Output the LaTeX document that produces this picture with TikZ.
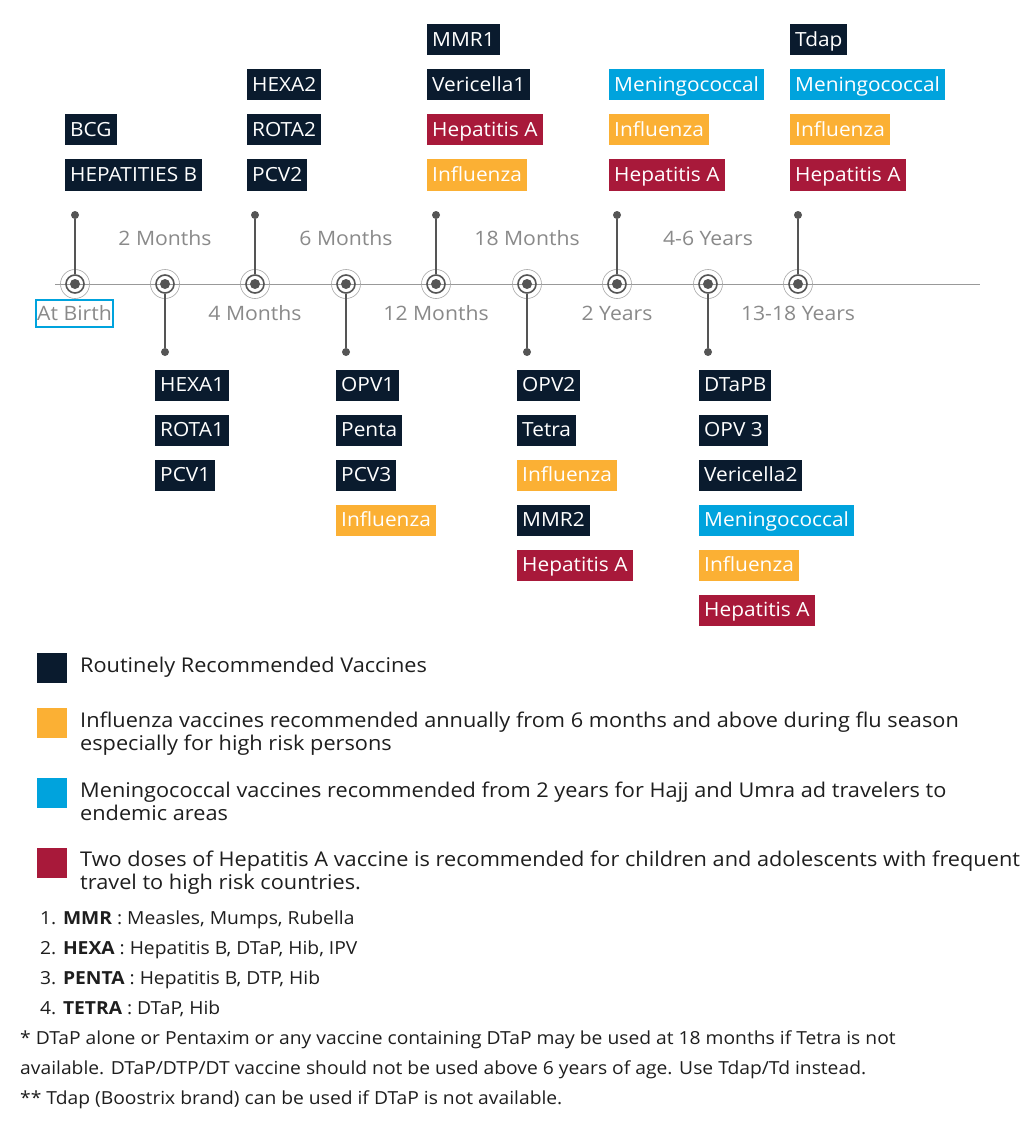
\documentclass[tikz,border=0pt]{standalone}
\usepackage{fontspec}
\setmainfont[FakeStretch=1.07]{Open Sans}
\definecolor{navy}{HTML}{0A1B2E}
\definecolor{flu}{HTML}{FBB034}
\definecolor{mening}{HTML}{00A3DD}
\definecolor{hepa}{HTML}{A8193A}
\definecolor{tlgray}{HTML}{555555}
\definecolor{lblgray}{HTML}{8A8A8A}
\definecolor{txt}{HTML}{1E1E1E}
\begin{document}
\begin{tikzpicture}[x=1pt,y=-1pt,
  vbox/.style={anchor=west, inner xsep=5pt, inner ysep=0pt, minimum height=31pt,
    text height=15.5pt, text depth=2pt, text=white, font=\fontsize{19.5}{19.5}\selectfont},
  rv/.style={vbox, fill=navy},
  fv/.style={vbox, fill=flu},
  mv/.style={vbox, fill=mening},
  hv/.style={vbox, fill=hepa},
  marker/.style={circle, draw=tlgray, line width=1.6pt, minimum size=18pt, inner sep=0pt,
    path picture={\fill[tlgray] (path picture bounding box.center) circle (5pt);}},
  ring/.style={circle, draw=black!35, line width=0.6pt, minimum size=29pt, inner sep=0pt},
  enddot/.style={circle, fill=tlgray, inner sep=0pt, minimum size=8pt},
  stem/.style={draw=tlgray, line width=1.1pt},
  agelbl/.style={text=lblgray, font=\fontsize{19.8}{19.8}\selectfont, inner sep=1pt},
  legsq/.style={anchor=north west, minimum size=30pt, inner sep=0pt},
  legtxt/.style={anchor=north west, align=left, text=txt, inner sep=0pt,
    font=\fontsize{20.3}{23}\selectfont},
  fn/.style={anchor=base west, text=txt, inner sep=0pt, font=\fontsize{18}{18}\selectfont}
]
\path[use as bounding box, fill=white] (0,0) rectangle (1023,1126);
% timeline
\coordinate (tlL) at (55,284);
\coordinate (tlR) at (980,284);
\draw[black!40, line width=0.8pt] (tlL) -- (tlR);
\foreach \n/\x in {m0/75, m2/165, m4/255, m6/346, m12/436, m18/527, y2/617, y46/708, y13/798}{
  \node[ring] (\n r) at (\x,284) {};
}
% stems up
\foreach \n/\x in {m0/75, m4/255, m12/436, y2/617, y13/798}{
  \node[enddot] (\n d) at (\x,215) {};
  \node[marker] (\n) at (\x,284) {};
  \draw[stem] (\n d) -- (\n.north);
}
% stems down
\foreach \n/\x in {m2/165, m6/346, m18/527, y46/708}{
  \node[enddot] (\n d) at (\x,352) {};
  \node[marker] (\n) at (\x,284) {};
  \draw[stem] (\n d) -- (\n.south);
}
% age labels
\node[agelbl, draw=mening, line width=1.8pt, inner xsep=1.5pt, inner ysep=0pt, minimum height=27pt] (l0) at (74.5,313.5) {At Birth};
\node[agelbl] (l2) at (165,238) {2 Months};
\node[agelbl] (l4) at (255,313) {4 Months};
\node[agelbl] (l6) at (346,238) {6 Months};
\node[agelbl] (l12) at (436,313) {12 Months};
\node[agelbl] (l18) at (527,238) {18 Months};
\node[agelbl] (ly2) at (617,313) {2 Years};
\node[agelbl] (ly46) at (708,238) {4-6 Years};
\node[agelbl] (ly13) at (798,313) {13-18 Years};
% At Birth
\node[rv] (b1) at (65,130) {BCG};
\node[rv] (b2) at (65,175) {HEPATITIES B};
% 2 months
\node[rv] (a1) at (155,385) {HEXA1};
\node[rv] (a2) at (155,430) {ROTA1};
\node[rv] (a3) at (155,475) {PCV1};
% 4 months
\node[rv] (c1) at (247,85) {HEXA2};
\node[rv] (c2) at (247,130) {ROTA2};
\node[rv] (c3) at (247,175) {PCV2};
% 6 months
\node[rv] (d1) at (336,385) {OPV1};
\node[rv] (d2) at (336,430) {Penta};
\node[rv] (d3) at (336,475) {PCV3};
\node[fv] (d4) at (336,520) {Influenza};
% 12 months
\node[rv] (e1) at (427,40) {MMR1};
\node[rv] (e2) at (427,85) {Vericella1};
\node[hv] (e3) at (427,130) {Hepatitis A};
\node[fv] (e4) at (427,175) {Influenza};
% 18 months
\node[rv] (f1) at (517,385) {OPV2};
\node[rv] (f2) at (517,430) {Tetra};
\node[fv] (f3) at (517,475) {Influenza};
\node[rv] (f4) at (517,520) {MMR2};
\node[hv] (f5) at (517,565) {Hepatitis A};
% 2 years
\node[mv] (g1) at (609,85) {Meningococcal};
\node[fv] (g2) at (609,130) {Influenza};
\node[hv] (g3) at (609,175) {Hepatitis A};
% 4-6 years
\node[rv] (h1) at (699,385) {DTaPB};
\node[rv] (h2) at (699,430) {OPV 3};
\node[rv] (h3) at (699,475) {Vericella2};
\node[mv] (h4) at (699,520) {Meningococcal};
\node[fv] (h5) at (699,565) {Influenza};
\node[hv] (h6) at (699,610) {Hepatitis A};
% 13-18 years
\node[rv] (i1) at (790,40) {Tdap};
\node[mv] (i2) at (790,85) {Meningococcal};
\node[fv] (i3) at (790,130) {Influenza};
\node[hv] (i4) at (790,175) {Hepatitis A};
% legend
\node[legsq, fill=navy] (s1) at (37,653) {};
\node[legtxt] (t1) at (80,656.5) {Routinely Recommended Vaccines};
\node[legsq, fill=flu] (s2) at (37,708) {};
\node[legtxt] (t2) at (80,711.5) {Influenza vaccines recommended annually from 6 months and above during flu season\\especially for high risk persons};
\node[legsq, fill=mening] (s3) at (37,778) {};
\node[legtxt] (t3) at (80,781.5) {Meningococcal vaccines recommended from 2 years for Hajj and Umra ad travelers to\\endemic areas};
\node[legsq, fill=hepa] (s4) at (37,848) {};
\node[legtxt] (t4) at (80,850.5) {Two doses of Hepatitis A vaccine is recommended for children and adolescents with frequent\\travel to high risk countries.};
% footnotes
\node[fn] (n1) at (40,924) {1. \textbf{MMR} : Measles, Mumps, Rubella};
\node[fn] (n2) at (40,954) {2. \textbf{HEXA} : Hepatitis B, DTaP, Hib, IPV};
\node[fn] (n3) at (40,984) {3. \textbf{PENTA} : Hepatitis B, DTP, Hib};
\node[fn] (n4) at (40,1014) {4. \textbf{TETRA} : DTaP, Hib};
\node[fn] (n5) at (20,1044) {* DTaP alone or Pentaxim or any vaccine containing DTaP may be used at 18 months if Tetra is not};
\node[fn] (n6) at (20,1074) {available. DTaP/DTP/DT vaccine should not be used above 6 years of age. Use Tdap/Td instead.};
\node[fn] (n7) at (20,1104) {** Tdap (Boostrix brand) can be used if DTaP is not available.};
\end{tikzpicture}
\end{document}
